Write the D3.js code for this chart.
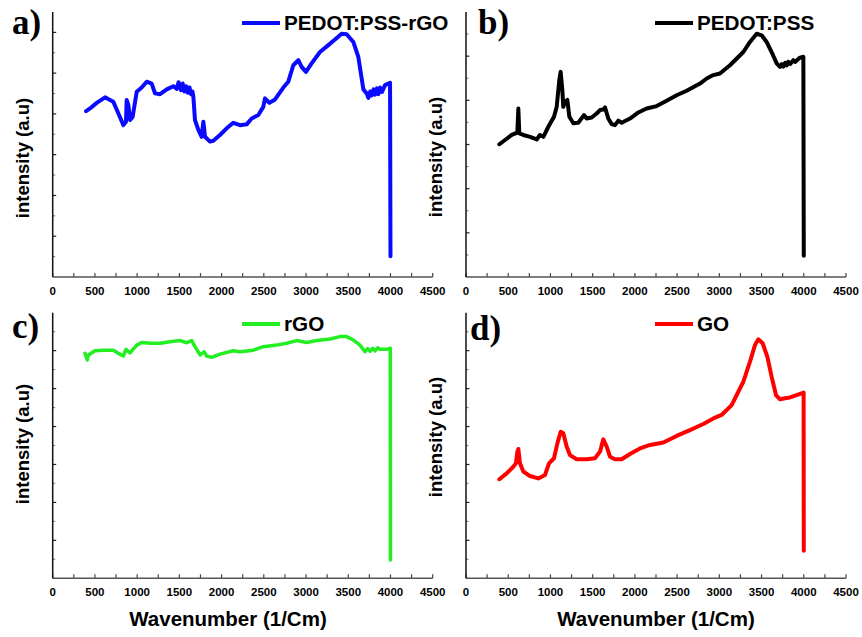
<!DOCTYPE html>
<html>
<head>
<meta charset="utf-8">
<script src="https://cdn.jsdelivr.net/npm/d3@7"></script>
<style>
  html, body { margin: 0; padding: 0; background: #fff; }
  svg { display: block; }
</style>
</head>
<body>
<svg id="chart" width="862" height="637"></svg>
<script>
// ---------------- DATA ----------------
const xTickLabels = [0, 500, 1000, 1500, 2000, 2500, 3000, 3500, 4000, 4500];
const seriesNames = ["PEDOT:PSS-rGO", "PEDOT:PSS", "rGO", "GO"];
const panelLetters = ["a)", "b)", "c)", "d)"];

// wavenumber (1/cm), relative intensity (% of axis height)
const pedotRgoX = [395,442,521,620,679,718,778,837,868,876,896,916,947,995,1054,1113,1172,1212,1271,1350,1429,1470,1490,1508,1520,1540,1560,1580,1600,1620,1640,1655,1666,1685,1725,1764,1784,1804,1863,1902,1981,2060,2139,2218,2297,2356,2435,2494,2514,2566,2633,2731,2790,2849,2909,2948,2999,3066,3165,3264,3343,3422,3481,3560,3619,3659,3679,3718,3738,3760,3777,3800,3817,3840,3856,3876,3900,3935,3995,4000];
const pedotRgoY = [62.6,63.6,65.7,67.8,66.8,66.1,61.7,57.3,58.6,66.8,64.9,59.2,60.5,69.9,71.5,73.7,73.0,69.3,69.0,70.8,72.0,71.0,73.5,72.0,70.5,73.0,70.0,72.0,69.5,71.5,69.0,70.0,68.0,59.2,55.5,52.9,58.6,52.9,51.1,51.4,53.6,56.1,58.2,57.3,57.6,59.8,61.1,64.2,67.4,65.7,67.0,71.5,73.7,79.9,81.8,79.3,77.4,80.6,84.9,87.5,89.6,91.8,91.6,88.7,83.1,74.9,70.8,69.3,67.6,70.0,68.5,70.8,68.8,71.2,69.0,71.5,69.8,72.4,73.3,7.8];

const pedotX = [395,462,541,608,620,631,679,758,837,876,916,975,1042,1074,1105,1121,1141,1152,1172,1200,1224,1271,1330,1397,1429,1488,1547,1587,1626,1646,1685,1725,1764,1804,1843,1942,2041,2139,2258,2376,2494,2613,2771,2850,2929,3007,3126,3284,3363,3442,3501,3560,3619,3679,3718,3740,3758,3780,3800,3817,3840,3876,3900,3955,3995,4000];
const pedotY = [50.1,51.7,53.6,54.5,63.6,54.2,53.6,52.9,51.9,53.6,52.9,56.7,60.5,64.2,74.3,77.4,70.5,64.2,66.1,66.8,60.5,58.0,58.2,61.1,59.8,60.2,61.7,63.0,63.2,64.0,59.8,57.7,57.3,59.0,58.2,59.8,62.1,63.6,64.5,66.5,68.6,70.3,73.0,74.9,76.2,76.8,79.9,84.9,88.7,91.8,91.2,88.7,84.9,80.6,79.3,80.3,79.4,80.8,79.9,81.2,80.4,81.8,81.2,82.8,83.1,8.0];

const rgoX = [383,410,422,501,600,718,778,837,868,916,995,1054,1153,1271,1389,1508,1587,1646,1685,1745,1792,1823,1883,1981,2139,2218,2376,2494,2652,2771,2889,3008,3126,3284,3402,3481,3560,3639,3698,3730,3758,3790,3817,3850,3876,3955,3998,4000];
const rgoY = [84.7,82.2,84.1,85.7,85.9,85.9,84.7,83.7,86.2,84.9,87.8,88.8,88.5,88.5,89.1,89.5,88.7,89.5,87.2,84.1,85.3,83.7,83.2,84.4,85.7,85.3,85.9,87.2,87.8,88.5,89.5,88.8,89.5,90.1,91.0,91.0,89.7,87.8,85.3,86.5,85.5,86.6,85.6,86.8,86.2,86.2,86.6,6.9];

const goX = [395,482,560,592,608,620,639,679,758,856,935,983,1042,1082,1121,1152,1192,1231,1310,1429,1527,1587,1626,1666,1705,1764,1843,1942,2060,2179,2337,2494,2652,2810,2929,3027,3146,3284,3363,3422,3462,3513,3569,3619,3671,3718,3777,3837,3915,3998,4000];
const goY = [37.3,39.5,42.0,43.3,47.7,48.7,43.3,40.2,38.5,37.6,38.9,43.3,45.2,50.8,55.2,54.6,49.6,46.4,44.8,44.8,45.2,47.7,52.3,49.6,45.8,44.8,44.8,46.8,48.9,50.2,51.1,53.6,55.8,58.1,60.2,61.5,65.2,74.0,81.6,87.8,90.0,88.5,83.4,75.9,69.0,67.4,67.8,68.1,69.0,69.9,10.4];

const yTickCounts = [13, 12, 14, 14];

// ---------------- LAYOUT / STYLE ----------------
const panels = [
  { xs: pedotRgoX, ys: pedotRgoY, color: "#0a0aff", sw: 4,   l: 52.7, t: 12,    r: 432.7, b: 277,   legX: 242, legY: 23,  lblX: 12,  lblY: 34,  ytX: 29,  ytY: 158 },
  { xs: pedotX,    ys: pedotY,    color: "#000000", sw: 4,   l: 466,  t: 12,    r: 846,   b: 277,   legX: 655, legY: 23,  lblX: 478, lblY: 34,  ytX: 442, ytY: 157 },
  { xs: rgoX,      ys: rgoY,      color: "#22ee22", sw: 3.5, l: 52.7, t: 312.7, r: 432.7, b: 578.3, legX: 242, legY: 324, lblX: 12,  lblY: 338, ytX: 29,  ytY: 444, xt: 228 },
  { xs: goX,       ys: goY,       color: "#ff0000", sw: 4,   l: 466,  t: 312.7, r: 846,   b: 578.3, legX: 655, legY: 324, lblX: 470, lblY: 340, ytX: 442, ytY: 437, xt: 656 }
];

const svg = d3.select("#chart");
const sans = "'Liberation Sans', Arial, sans-serif";
const serif = "'Liberation Serif', 'Times New Roman', serif";

panels.forEach((p, i) => {
  const x = d3.scaleLinear().domain([0, 4500]).range([p.l, p.r]);
  const y = d3.scaleLinear().domain([0, 100]).range([p.b, p.t]);
  const g = svg.append("g");

  // x axis: ticks every 250 pointing inward, labels every 500
  const xMinor = d3.range(0, 4501, 250);
  g.append("g").selectAll("line").data(xMinor).join("line")
    .attr("x1", d => x(d)).attr("x2", d => x(d))
    .attr("y1", p.b).attr("y2", p.b - 4)
    .attr("stroke", "#444").attr("stroke-width", 1.2);
  g.append("line").attr("x1", p.l).attr("x2", p.r).attr("y1", p.b).attr("y2", p.b)
    .attr("stroke", "#555").attr("stroke-width", 1.6);
  g.append("g").selectAll("text").data(xTickLabels).join("text")
    .attr("x", d => x(d)).attr("y", p.b + 18)
    .attr("text-anchor", "middle")
    .attr("font-family", sans).attr("font-weight", "bold").attr("font-size", 11.5)
    .text(d => d);

  // y axis
  const n = yTickCounts[i];
  const yT = d3.range(1, n).map(k => k * 100 / n);
  g.append("g").selectAll("line").data(yT).join("line")
    .attr("x1", p.l).attr("x2", (d, k) => p.l + (k % 2 === 0 ? 2.5 : 3.5))
    .attr("y1", d => y(d)).attr("y2", d => y(d))
    .attr("stroke", (d, k) => k % 2 === 0 ? "#888" : "#222").attr("stroke-width", 1.2);
  g.append("line").attr("x1", p.l).attr("x2", p.l).attr("y1", p.t).attr("y2", p.b)
    .attr("stroke", "#111").attr("stroke-width", 1.5);

  // y title
  g.append("text")
    .attr("transform", `translate(${p.ytX},${p.ytY}) rotate(-90)`)
    .attr("text-anchor", "middle")
    .attr("font-family", sans).attr("font-weight", "bold").attr("font-size", 18.5)
    .text("intensity (a.u)");

  // x title (bottom row only)
  if (p.xt !== undefined) {
    g.append("text").attr("x", p.xt).attr("y", 626)
      .attr("text-anchor", "middle")
      .attr("font-family", sans).attr("font-weight", "bold").attr("font-size", 20.5)
      .text("Wavenumber (1/Cm)");
  }

  // series line
  const pts = p.xs.map((v, k) => [v, p.ys[k]]);
  g.append("path").datum(pts)
    .attr("fill", "none").attr("stroke", p.color).attr("stroke-width", p.sw)
    .attr("stroke-linejoin", "round").attr("stroke-linecap", "round")
    .attr("d", d3.line().x(d => x(d[0])).y(d => y(d[1])));

  // legend
  g.append("line").attr("x1", p.legX).attr("x2", p.legX + 38)
    .attr("y1", p.legY).attr("y2", p.legY)
    .attr("stroke", p.color).attr("stroke-width", 4);
  g.append("text").attr("x", p.legX + 42).attr("y", p.legY + 7)
    .attr("font-family", sans).attr("font-weight", "bold").attr("font-size", 20.7)
    .text(seriesNames[i]);

  // panel letter
  g.append("text").attr("x", p.lblX).attr("y", p.lblY)
    .attr("font-family", serif).attr("font-weight", "bold").attr("font-size", 35)
    .text(panelLetters[i]);
});
</script>
</body>
</html>
